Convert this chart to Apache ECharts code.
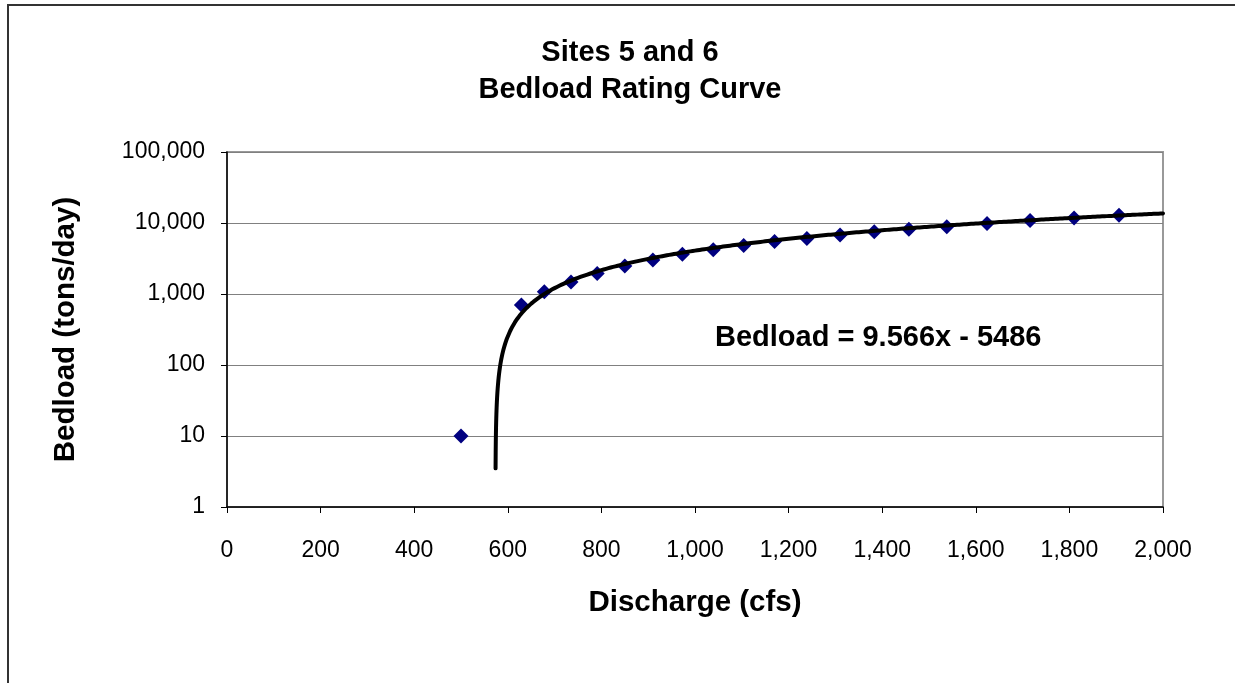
<!DOCTYPE html>
<html>
<head>
<meta charset="utf-8">
<style>
  html, body { margin: 0; padding: 0; background: #ffffff; }
  #chart { width: 1235px; height: 683px; }
</style>
<script src="https://cdn.jsdelivr.net/npm/echarts@6/dist/echarts.min.js"></script>
</head>
<body>
<div id="chart"></div>
<script>
// ---- data ----
const titleLines = ['Sites 5 and 6', 'Bedload Rating Curve'];
const xAxisTitle = 'Discharge (cfs)';
const yAxisTitle = 'Bedload (tons/day)';
const equationText = 'Bedload = 9.566x - 5486';

const discharge = [500, 629, 678, 735, 791, 850, 910, 973, 1039, 1104, 1170, 1239, 1310, 1383, 1457, 1538, 1624, 1716, 1810, 1906];
const bedload   = [10, 700, 1075, 1480, 1940, 2480, 3010, 3620, 4200, 4840, 5510, 6070, 6750, 7500, 8180, 8820, 9840, 10840, 11790, 12860];

// trendline printed on the chart: Bedload = slope * x + intercept
const trendSlope = 9.566;
const trendIntercept = -5486;
const trendMinY = 3.5;   // lowest visible end of the trendline
const trendMaxX = 2000;

const xMin = 0, xMax = 2000, xInterval = 200;
const yMin = 1, yMax = 100000;

// ---- build series ----
const points = discharge.map((x, i) => [x, bedload[i]]);

const trend = [];
const xStart = (trendMinY - trendIntercept) / trendSlope;
for (let x = xStart; x < 600; x += 0.25) trend.push([x, trendSlope * x + trendIntercept]);
for (let x = 600; x <= trendMaxX; x += 5) trend.push([x, trendSlope * x + trendIntercept]);

const fmt = v => Number(v).toLocaleString('en-US');
const FONT = '"Liberation Sans", Arial, sans-serif';

const chart = echarts.init(document.getElementById('chart'), null, { renderer: 'canvas' });
chart.setOption({
  backgroundColor: '#ffffff',
  animation: false,
  title: {
    text: titleLines.join('\n'),
    left: 625,
    top: 29,
    textAlign: 'center',
    textStyle: { fontFamily: FONT, fontSize: 29, fontWeight: 'bold', color: '#000', lineHeight: 37 }
  },
  grid: {
    left: 227, top: 152, right: 72, bottom: 176,
    show: true, borderColor: '#999999', borderWidth: 2, backgroundColor: 'transparent'
  },
  xAxis: {
    type: 'value',
    min: xMin, max: xMax, interval: xInterval,
    name: xAxisTitle,
    nameLocation: 'middle',
    nameGap: 81,
    nameTextStyle: { fontFamily: FONT, fontSize: 29.5, fontWeight: 'bold', color: '#000' },
    axisLine: { show: true, onZero: false, lineStyle: { color: '#000', width: 1.5 } },
    axisTick: { show: true, inside: false, length: 6, lineStyle: { color: '#000' } },
    axisLabel: { fontFamily: FONT, fontSize: 23, color: '#000', margin: 32, formatter: fmt },
    splitLine: { show: false }
  },
  yAxis: {
    type: 'log',
    logBase: 10,
    min: yMin, max: yMax,
    name: yAxisTitle,
    nameLocation: 'middle',
    nameGap: 146,
    nameTextStyle: { fontFamily: FONT, fontSize: 29.5, fontWeight: 'bold', color: '#000' },
    axisLine: { show: true, lineStyle: { color: '#000', width: 1.5 } },
    axisTick: { show: true, inside: false, length: 6, lineStyle: { color: '#000' } },
    axisLabel: { fontFamily: FONT, fontSize: 23, color: '#000', margin: 22, formatter: fmt },
    splitLine: { show: true, lineStyle: { color: '#808080', width: 1 } }
  },
  graphic: [
    {
      type: 'rect',
      shape: { x: 8, y: 5, width: 1400, height: 900 },
      style: { fill: 'none', stroke: '#333333', lineWidth: 2 },
      silent: true, z: 100
    },
    {
      type: 'text',
      x: 715, y: 338,
      style: {
        text: equationText,
        fontFamily: FONT, fontSize: 29, fontWeight: 'bold', fill: '#000',
        textVerticalAlign: 'middle', verticalAlign: 'middle'
      },
      z: 100
    }
  ],
  series: [
    {
      type: 'scatter',
      data: points,
      symbol: 'diamond',
      symbolSize: 15,
      itemStyle: { color: '#000080', opacity: 1 },
      z: 2
    },
    {
      type: 'line',
      data: trend,
      showSymbol: false,
      symbol: 'none',
      smooth: false,
      lineStyle: { color: '#000000', width: 4, cap: 'round', join: 'round' },
      z: 3
    }
  ]
});
</script>
</body>
</html>
